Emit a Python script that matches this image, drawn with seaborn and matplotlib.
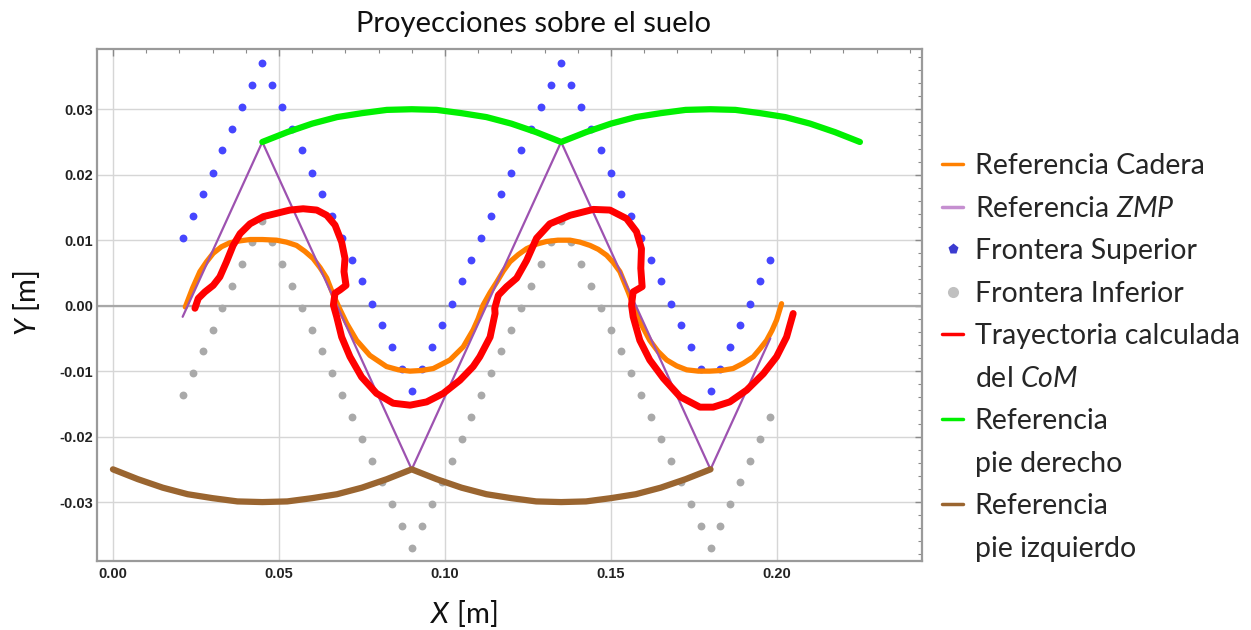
import matplotlib
matplotlib.use("Agg")
import matplotlib.pyplot as plt
import matplotlib.ticker as ticker
from matplotlib.lines import Line2D
import seaborn as sns

# --- data ---
cadera_x = [0.0218, 0.0240, 0.0262, 0.0282, 0.0302, 0.0327, 0.0352, 0.0383, 0.0413, 0.0450,
            0.0493, 0.0523, 0.0553, 0.0578, 0.0603, 0.0624, 0.0644, 0.0664, 0.0684, 0.0704,
            0.0734, 0.0774, 0.0824, 0.0860, 0.0895, 0.0930, 0.0965, 0.1015, 0.1055, 0.1085,
            0.1100, 0.1115, 0.1136, 0.1156, 0.1176, 0.1196, 0.1221, 0.1246, 0.1276, 0.1306,
            0.1340, 0.1377, 0.1407, 0.1437, 0.1462, 0.1487, 0.1507, 0.1527, 0.1552, 0.1575,
            0.1595, 0.1617, 0.1642, 0.1668, 0.1698, 0.1728, 0.1763, 0.1798, 0.1833, 0.1868,
            0.1899, 0.1929, 0.1949, 0.1969, 0.1985, 0.1999, 0.2014]
cadera_y = [-0.0002, 0.0027, 0.0052, 0.0067, 0.0080, 0.0090, 0.0096, 0.0099, 0.0101, 0.0101,
            0.0100, 0.0097, 0.0092, 0.0083, 0.0072, 0.0058, 0.0042, 0.0016, -0.0006, -0.0027,
            -0.0053, -0.0076, -0.0093, -0.0098, -0.0100, -0.0099, -0.0096, -0.0083, -0.0063, -0.0037,
            -0.0020, 0.0001, 0.0020, 0.0036, 0.0053, 0.0067, 0.0078, 0.0087, 0.0094, 0.0098,
            0.0100, 0.0100, 0.0097, 0.0092, 0.0086, 0.0077, 0.0066, 0.0052, 0.0021, -0.0010,
            -0.0032, -0.0053, -0.0070, -0.0083, -0.0092, -0.0098, -0.0100, -0.0100, -0.0099, -0.0096,
            -0.0088, -0.0078, -0.0066, -0.0053, -0.0038, -0.0022, 0.0003]

zmp_x = [0.021, 0.045, 0.090, 0.135, 0.180, 0.198]
zmp_y = [-0.0017, 0.025, -0.025, 0.025, -0.025, -0.005]

frontera_x = [0.021, 0.024, 0.027, 0.030, 0.033, 0.036, 0.039, 0.042, 0.045, 0.048,
              0.051, 0.054, 0.057, 0.060, 0.063, 0.066, 0.069, 0.072, 0.075, 0.078,
              0.081, 0.084, 0.087, 0.090, 0.093, 0.096, 0.099, 0.102, 0.105, 0.108,
              0.111, 0.114, 0.117, 0.120, 0.123, 0.126, 0.129, 0.132, 0.135, 0.138,
              0.141, 0.144, 0.147, 0.150, 0.153, 0.156, 0.159, 0.162, 0.165, 0.168,
              0.171, 0.174, 0.177, 0.180, 0.183, 0.186, 0.189, 0.192, 0.195, 0.198]
superior_y = [0.0103, 0.0137, 0.0170, 0.0203, 0.0237, 0.0270, 0.0303, 0.0337, 0.0370, 0.0337,
              0.0303, 0.0270, 0.0237, 0.0203, 0.0170, 0.0137, 0.0103, 0.0070, 0.0037, 0.0003,
              -0.0030, -0.0063, -0.0097, -0.0130, -0.0097, -0.0063, -0.0030, 0.0003, 0.0037, 0.0070,
              0.0103, 0.0137, 0.0170, 0.0203, 0.0237, 0.0270, 0.0303, 0.0337, 0.0370, 0.0337,
              0.0303, 0.0270, 0.0237, 0.0203, 0.0170, 0.0137, 0.0103, 0.0070, 0.0037, 0.0003,
              -0.0030, -0.0063, -0.0097, -0.0130, -0.0097, -0.0063, -0.0030, 0.0003, 0.0037, 0.0070]
inferior_y = [-0.0137, -0.0103, -0.0070, -0.0037, -0.0003, 0.0030, 0.0063, 0.0097, 0.0130, 0.0097,
              0.0063, 0.0030, -0.0003, -0.0037, -0.0070, -0.0103, -0.0137, -0.0170, -0.0203, -0.0237,
              -0.0270, -0.0303, -0.0337, -0.0370, -0.0337, -0.0303, -0.0270, -0.0237, -0.0203, -0.0170,
              -0.0137, -0.0103, -0.0070, -0.0037, -0.0003, 0.0030, 0.0063, 0.0097, 0.0130, 0.0097,
              0.0063, 0.0030, -0.0003, -0.0037, -0.0070, -0.0103, -0.0137, -0.0170, -0.0203, -0.0237,
              -0.0270, -0.0303, -0.0337, -0.0370, -0.0337, -0.0303, -0.0270, -0.0237, -0.0203, -0.0170]

com_x = [0.0247, 0.0257, 0.0277, 0.0302, 0.0322, 0.0342, 0.0362, 0.0383, 0.0413, 0.0453,
         0.0493, 0.0533, 0.0573, 0.0614, 0.0644, 0.0669, 0.0689, 0.0699, 0.0696, 0.0702,
         0.0684, 0.0669, 0.0664, 0.0674, 0.0689, 0.0714, 0.0749, 0.0794, 0.0844, 0.0895,
         0.0945, 0.0995, 0.1045, 0.1085, 0.1105, 0.1136, 0.1151, 0.1150, 0.1161, 0.1186,
         0.1216, 0.1246, 0.1276, 0.1316, 0.1377, 0.1447, 0.1497, 0.1547, 0.1577, 0.1592,
         0.1590, 0.1594, 0.1567, 0.1562, 0.1567, 0.1587, 0.1617, 0.1658, 0.1708, 0.1768,
         0.1808, 0.1858, 0.1909, 0.1959, 0.1999, 0.2029, 0.2049]
com_y = [-0.0004, 0.0011, 0.0021, 0.0031, 0.0044, 0.0067, 0.0092, 0.0110, 0.0125, 0.0136,
         0.0141, 0.0146, 0.0148, 0.0146, 0.0138, 0.0123, 0.0097, 0.0072, 0.0052, 0.0031,
         0.0024, 0.0019, 0.0001, -0.0017, -0.0048, -0.0078, -0.0109, -0.0134, -0.0149, -0.0152,
         -0.0147, -0.0134, -0.0114, -0.0093, -0.0078, -0.0048, -0.0012, -0.0004, 0.0016, 0.0029,
         0.0042, 0.0069, 0.0103, 0.0125, 0.0138, 0.0147, 0.0146, 0.0133, 0.0113, 0.0087,
         0.0057, 0.0029, 0.0021, 0.0001, -0.0017, -0.0053, -0.0083, -0.0111, -0.0139, -0.0155,
         -0.0155, -0.0147, -0.0129, -0.0104, -0.0078, -0.0048, -0.0012]

pie_der_x = [0.045, 0.0525, 0.060, 0.0675, 0.075, 0.0825, 0.090, 0.0975, 0.105, 0.1125,
             0.120, 0.1275, 0.135, 0.1425, 0.150, 0.1575, 0.165, 0.1725, 0.180, 0.1875,
             0.195, 0.2025, 0.210, 0.2175, 0.225]
pie_der_y = [0.0250, 0.0265, 0.0278, 0.0288, 0.0294, 0.0299, 0.0300, 0.0299, 0.0294, 0.0288,
             0.0278, 0.0265, 0.0250, 0.0265, 0.0278, 0.0288, 0.0294, 0.0299, 0.0300, 0.0299,
             0.0294, 0.0288, 0.0278, 0.0265, 0.0250]

pie_izq_x = [0.000, 0.0075, 0.015, 0.0225, 0.030, 0.0375, 0.045, 0.0525, 0.060, 0.0675,
             0.075, 0.0825, 0.090, 0.0975, 0.105, 0.1125, 0.120, 0.1275, 0.135, 0.1425,
             0.150, 0.1575, 0.165, 0.1725, 0.180]
pie_izq_y = [-0.0250, -0.0265, -0.0278, -0.0288, -0.0294, -0.0299, -0.0300, -0.0299, -0.0294, -0.0288,
             -0.0278, -0.0265, -0.0250, -0.0265, -0.0278, -0.0288, -0.0294, -0.0299, -0.0300, -0.0299,
             -0.0294, -0.0288, -0.0278, -0.0265, -0.0250]

x_ticks = [0.00, 0.05, 0.10, 0.15, 0.20]
y_ticks = [-0.03, -0.02, -0.01, 0.00, 0.01, 0.02, 0.03]

c_orange = "#ff8000"
c_purple = "#9d52b0"
c_blue = "#4646ff"
c_gray = "#a9a9a9"
c_red = "#ff0000"
c_green = "#00f000"
c_brown = "#9a6530"

sns.set_theme(style="white")
plt.rcParams['font.family'] = ['Lato', 'DejaVu Sans']
plt.rcParams['mathtext.fontset'] = 'custom'
plt.rcParams['mathtext.rm'] = 'Lato'
plt.rcParams['mathtext.it'] = 'Lato:italic'

fig = plt.figure(figsize=(12.51, 6.30), dpi=100)
ax = fig.add_axes([97/1251, 1 - 561/630, 825/1251, 512/630])

# boundaries first, lines over them
sns.scatterplot(x=frontera_x, y=superior_y, color=c_blue, s=32, linewidth=0, ax=ax, zorder=2)
sns.scatterplot(x=frontera_x, y=inferior_y, color=c_gray, s=32, linewidth=0, ax=ax, zorder=2)

kw = dict(sort=False, estimator=None, ax=ax)
sns.lineplot(x=cadera_x, y=cadera_y, color=c_orange, lw=3.8, zorder=3, **kw)
sns.lineplot(x=zmp_x, y=zmp_y, color=c_purple, lw=1.6, zorder=4, **kw)
sns.lineplot(x=com_x, y=com_y, color=c_red, lw=5.0, zorder=5, **kw)
sns.lineplot(x=pie_der_x, y=pie_der_y, color=c_green, lw=4.5, zorder=5, **kw)
sns.lineplot(x=pie_izq_x, y=pie_izq_y, color=c_brown, lw=4.5, zorder=5, **kw)

ax.axhline(0, color="#a8a8a8", lw=1.6, zorder=1)

ax.set_xlim(-0.0048, 0.2437)
ax.set_ylim(-0.039, 0.0392)
ax.set_xticks(x_ticks)
ax.set_yticks(y_ticks)
ax.xaxis.set_minor_locator(ticker.MultipleLocator(0.01))
ax.yaxis.set_minor_locator(ticker.MultipleLocator(0.002))
ax.xaxis.set_major_formatter(ticker.FormatStrFormatter('%.2f'))
ax.yaxis.set_major_formatter(ticker.FormatStrFormatter('%.2f'))
ax.grid(True, which='major', color="#d6d6d6", lw=1.0, zorder=0)
ax.set_axisbelow(True)
for s in ax.spines.values():
    s.set_color("#9a9a9a")
    s.set_linewidth(1.6)
ax.tick_params(which='both', direction='in', top=True, right=True, color="#8a8a8a")
ax.tick_params(which='major', length=5, width=1.0)
ax.tick_params(which='minor', length=3, width=0.8)
ax.tick_params(axis='x', pad=4)
ax.tick_params(axis='y', pad=3)
for lab in ax.get_xticklabels() + ax.get_yticklabels():
    lab.set_fontfamily(['Liberation Sans', 'DejaVu Sans'])
    lab.set_fontweight('bold')
    lab.set_fontsize(10.5)
    lab.set_color("#222222")
ax.set_xlabel("")
ax.set_ylabel("")

fig.text(533/1251, 1 - 32/630, "Proyecciones sobre el suelo", ha='center', va='baseline',
         fontsize=21, color="#111111")
fig.text(430/1251, 1 - 623/630, "$X$ [m]", ha='left', va='baseline', fontsize=21, color="#111111")
fig.text(27/1251, 1 - 303/630, "$Y$ [m]", ha='center', va='center', rotation=90,
         fontsize=21, color="#111111")

blank = Line2D([], [], color='none')
handles = [Line2D([], [], color=c_orange, lw=2.5),
           Line2D([], [], color="#c58fd0", lw=2.5),
           Line2D([], [], color='none', marker='p', markerfacecolor="#3b3bd0", markeredgecolor='none', markersize=8),
           Line2D([], [], color='none', marker='o', markerfacecolor="#c0c0c0", markeredgecolor='none', markersize=8),
           Line2D([], [], color=c_red, lw=2.5),
           blank,
           Line2D([], [], color=c_green, lw=2.5),
           blank,
           Line2D([], [], color=c_brown, lw=2.5),
           blank]
labels = ["Referencia Cadera", "Referencia $ZMP$", "Frontera Superior", "Frontera Inferior",
          "Trayectoria calculada", "del $CoM$", "Referencia", "pie derecho", "Referencia",
          "pie izquierdo"]
ax.legend(handles, labels, loc='upper left', bbox_to_anchor=(942/1251, 1 - 153/630),
          bbox_transform=fig.transFigure, frameon=False, fontsize=20.5, handlelength=0.75,
          handletextpad=0.4, labelspacing=0.58, borderpad=0, borderaxespad=0)

fig.savefig("out.png", dpi=100)
